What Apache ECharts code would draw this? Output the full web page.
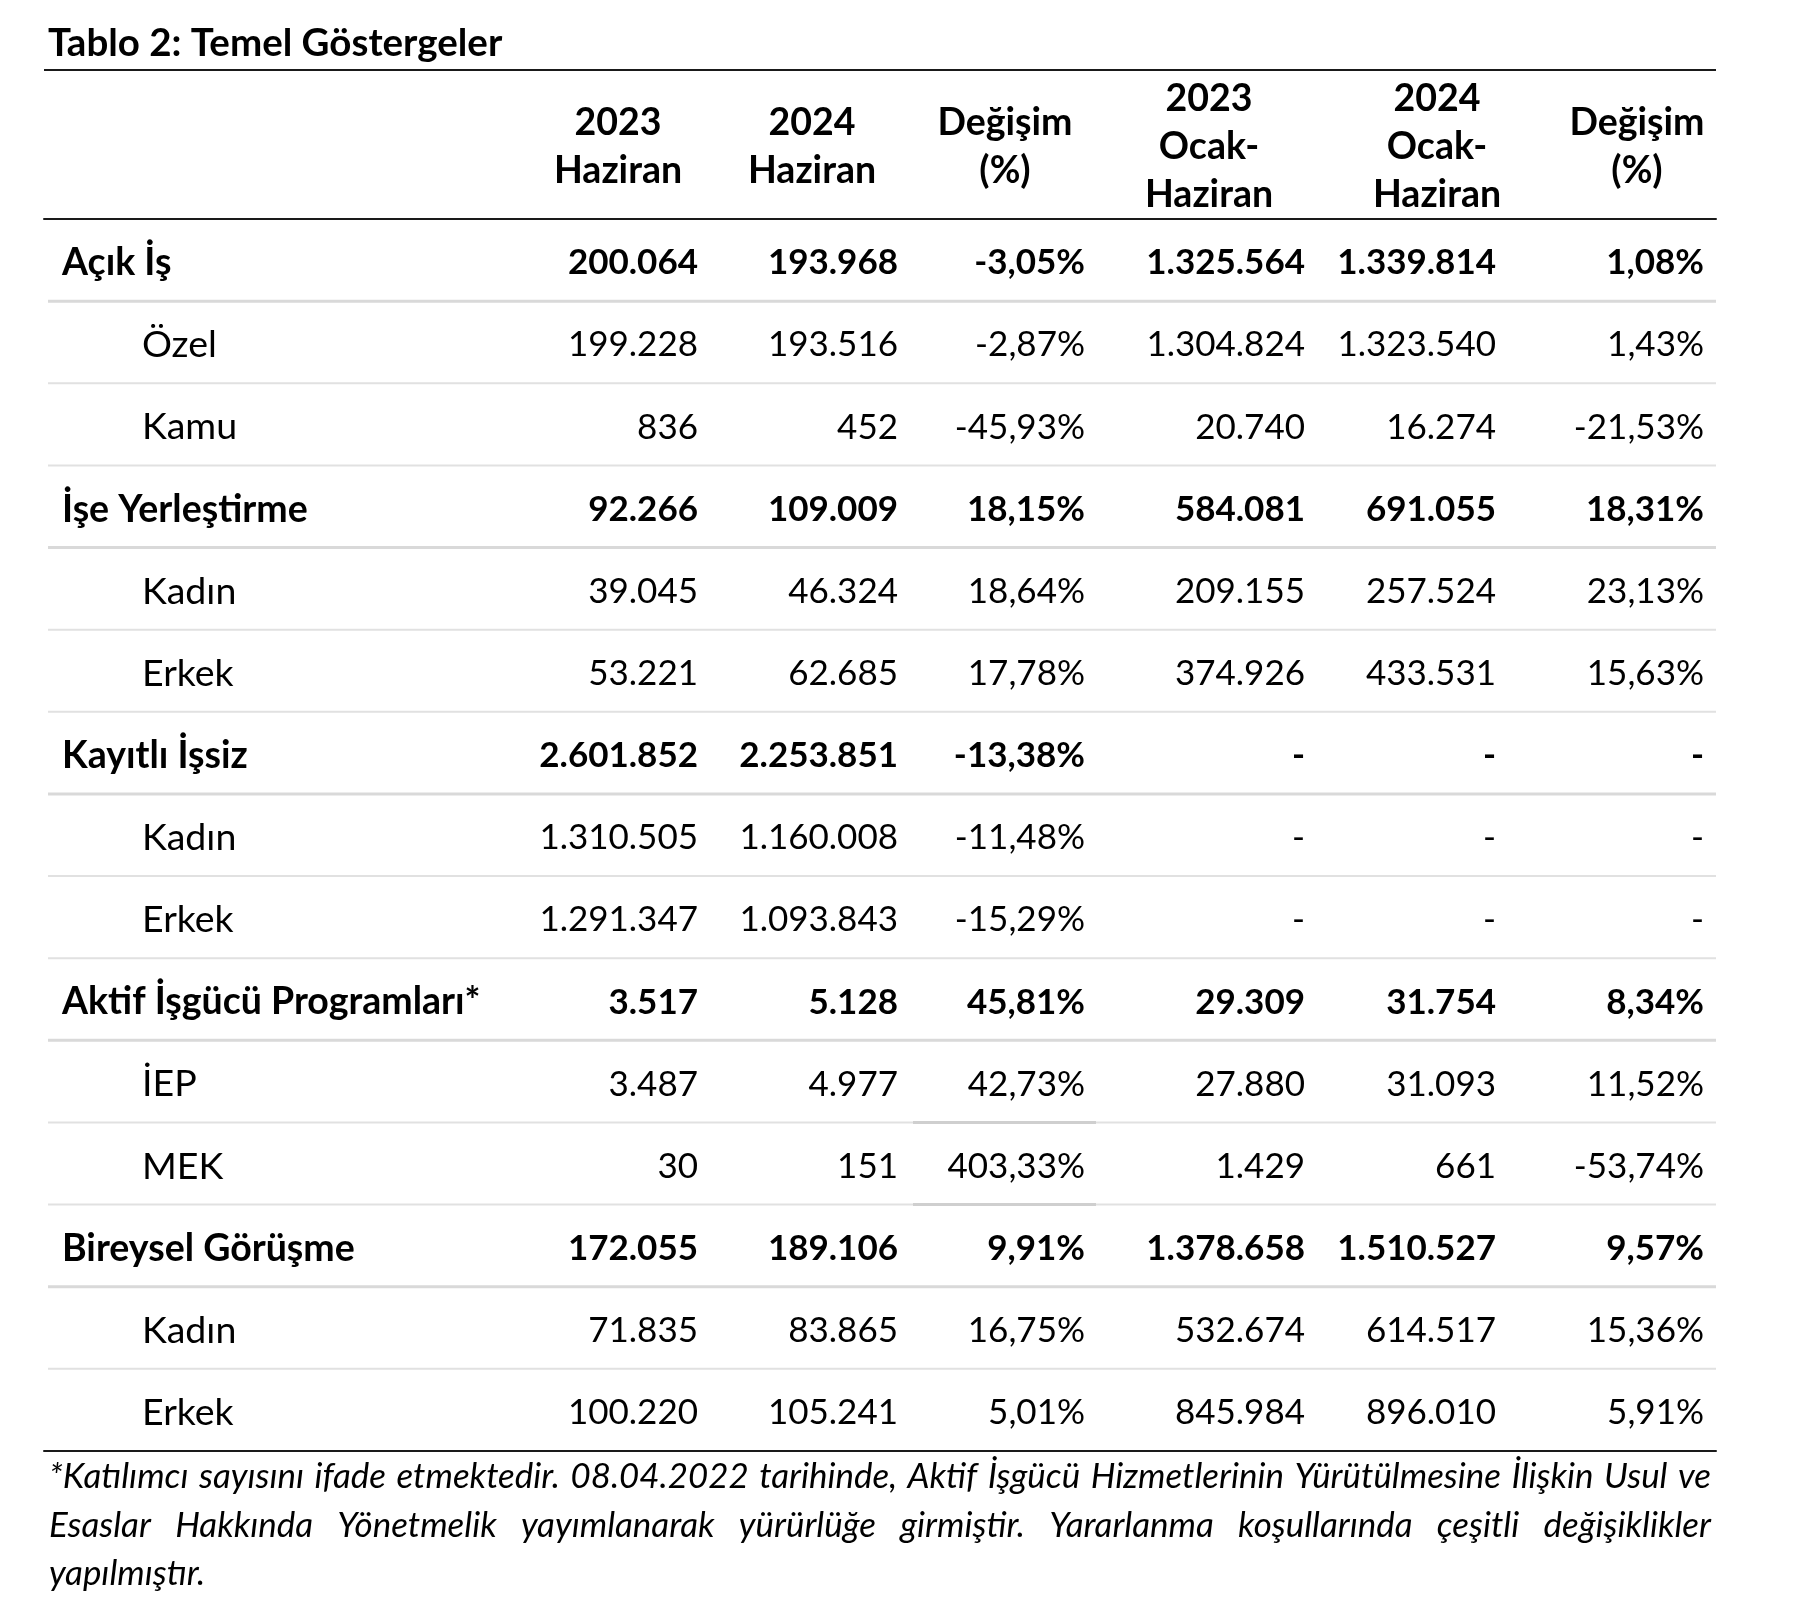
<!DOCTYPE html>
<html><head><meta charset="utf-8">
<script src="https://cdn.jsdelivr.net/npm/echarts@6/dist/echarts.min.js"></script>
<style>html,body{margin:0;padding:0;background:#fff}#c{width:1800px;height:1615px}</style>
</head><body><div id="c"></div>
<script>
// ---------- DATA ----------
const tableTitle = 'Tablo 2: Temel Göstergeler';
const columnHeaders = [
  ['2023', 'Haziran'],
  ['2024', 'Haziran'],
  ['Değişim', '(%)'],
  ['2023', 'Ocak-', 'Haziran'],
  ['2024', 'Ocak-', 'Haziran'],
  ['Değişim', '(%)']
];
const rowLabels = ['Açık İş', 'Özel', 'Kamu', 'İşe Yerleştirme', 'Kadın', 'Erkek', 'Kayıtlı İşsiz', 'Kadın', 'Erkek',
  'Aktif İşgücü Programları*', 'İEP', 'MEK', 'Bireysel Görüşme', 'Kadın', 'Erkek'];
const rowIsMain = [1, 0, 0, 1, 0, 0, 1, 0, 0, 1, 0, 0, 1, 0, 0];
const haziran2023 = [200064, 199228, 836, 92266, 39045, 53221, 2601852, 1310505, 1291347, 3517, 3487, 30, 172055, 71835, 100220];
const haziran2024 = [193968, 193516, 452, 109009, 46324, 62685, 2253851, 1160008, 1093843, 5128, 4977, 151, 189106, 83865, 105241];
const degisimHaziran = [-3.05, -2.87, -45.93, 18.15, 18.64, 17.78, -13.38, -11.48, -15.29, 45.81, 42.73, 403.33, 9.91, 16.75, 5.01];
const ocakHaziran2023 = [1325564, 1304824, 20740, 584081, 209155, 374926, null, null, null, 29309, 27880, 1429, 1378658, 532674, 845984];
const ocakHaziran2024 = [1339814, 1323540, 16274, 691055, 257524, 433531, null, null, null, 31754, 31093, 661, 1510527, 614517, 896010];
const degisimOcakHaziran = [1.08, 1.43, -21.53, 18.31, 23.13, 15.63, null, null, null, 8.34, 11.52, -53.74, 9.57, 15.36, 5.91];
const footnoteLines = [
  '*Katılımcı sayısını ifade etmektedir. 08.04.2022 tarihinde, Aktif İşgücü Hizmetlerinin Yürütülmesine İlişkin Usul ve',
  'Esaslar Hakkında Yönetmelik yayımlanarak yürürlüğe girmiştir. Yararlanma koşullarında çeşitli değişiklikler',
  'yapılmıştır.'
];

// ---------- LAYOUT / STYLE ----------
const FONT = 'Lato';
const FS_NUM = 35;     // numbers
const FS_TEXT = 37.5;  // row labels and headers
const FS_TITLE = 38.5;
const L = {
  gridLeft: 44, gridRight: 84, gridTop: 219, gridBottom: 164, xMax: 1672,
  colRight: [654, 854, 1041, 1261, 1452, 1660],
  colCenter: [574, 768, 961, 1165, 1393, 1593],
  mainLabelX: 18, subLabelX: 98, lineStart: 4, textDy: 3,
  headerCenterOffset: -72, headerLineGap: 48,
  specialCell: { row: 11, x1: 869, x2: 1052 },
  footLeft: 49, footRight: 1711, footY: [1477, 1526, 1574]
};

function fmtInt(n) {
  if (n == null) return '-';
  const s = String(Math.abs(n)).replace(/\B(?=(\d{3})+(?!\d))/g, '.');
  return (n < 0 ? '-' : '') + s;
}
function fmtPct(p) {
  if (p == null) return '-';
  const parts = Math.abs(p).toFixed(2).split('.');
  return (p < 0 ? '-' : '') + parts[0].replace(/\B(?=(\d{3})+(?!\d))/g, '.') + ',' + parts[1] + '%';
}
const columnsData = [haziran2023, haziran2024, degisimHaziran, ocakHaziran2023, ocakHaziran2024, degisimOcakHaziran];
const columnFmt = [fmtInt, fmtInt, fmtPct, fmtInt, fmtInt, fmtPct];

function txt(text, x, y, align, bold, size) {
  return {
    type: 'text',
    style: { text, x, y, align, verticalAlign: 'middle', fontFamily: FONT, fontSize: size,
      fontWeight: bold ? 'bold' : 'normal', fill: '#000' }
  };
}

// ---------- FOOTNOTE (justified) ----------
const cv = document.createElement('canvas').getContext('2d');
function measure(t, size) { cv.font = 'italic ' + size + 'px ' + FONT; return cv.measureText(t).width; }
const footFS = Math.round(1635 / measure(footnoteLines[0], 100) * 100 * 10) / 10;
const footGraphics = [];
footnoteLines.forEach((line, li) => {
  const y = L.footY[li];
  const justify = li < footnoteLines.length - 1;
  const mk = (t, x) => ({ type: 'text', x, y,
    style: { text: t, font: 'italic ' + footFS + 'px ' + FONT, fill: '#000', align: 'left', verticalAlign: 'middle', textAlign: 'left', textVerticalAlign: 'middle' } });
  if (!justify) { footGraphics.push(mk(line, L.footLeft)); return; }
  const words = line.split(' ');
  const ws = words.map(w => measure(w, footFS));
  const total = ws.reduce((a, b) => a + b, 0);
  const gap = (L.footRight - L.footLeft - total) / (words.length - 1);
  let x = L.footLeft;
  words.forEach((w, k) => { footGraphics.push(mk(w, x)); x += ws[k] + gap; });
});

const chart = echarts.init(document.getElementById('c'), null, { renderer: 'canvas' });
const hiddenX = (pos) => ({
  type: 'value', min: 0, max: L.xMax, position: pos,
  axisLine: { show: true, onZero: false, lineStyle: { color: '#1a1a1a', width: 2 } },
  axisTick: { show: false }, axisLabel: { show: false }, splitLine: { show: false }
});

chart.setOption({
  animation: false,
  backgroundColor: '#fff',
  title: {
    text: tableTitle, left: 48, top: 24, padding: 0,
    textStyle: { fontFamily: FONT, fontSize: FS_TITLE, fontWeight: 'bold', color: '#000' }
  },
  grid: { left: L.gridLeft, right: L.gridRight, top: L.gridTop, bottom: L.gridBottom, containLabel: false },
  xAxis: [hiddenX('bottom'), hiddenX('top')],
  yAxis: {
    type: 'category', inverse: true, data: rowLabels.map((_, i) => 'r' + i),
    axisLine: { show: false }, axisTick: { show: false }, axisLabel: { show: false }, splitLine: { show: false }
  },
  graphic: [
    { type: 'line', shape: { x1: 44, y1: 70, x2: 1716, y2: 70 }, style: { stroke: '#1a1a1a', lineWidth: 2 } }
  ].concat(footGraphics),
  series: [
    {
      type: 'custom', name: 'rows', clip: false,
      data: rowLabels.map((_, i) => [0, i]),
      renderItem(params, api) {
        const i = params.dataIndex;
        const r = api.value(1);
        const c = api.coord([0, r]);
        const y = c[1];
        const ty = y + L.textDy;
        const bandH = api.size([0, 1])[1];
        const X = v => api.coord([v, r])[0];
        const main = !!rowIsMain[i];
        const children = [];
        children.push(txt(rowLabels[i], X(main ? L.mainLabelX : L.subLabelX), ty, 'left', main, FS_TEXT));
        columnsData.forEach((arr, j) => {
          children.push(txt(columnFmt[j](arr[i]), X(L.colRight[j]), ty, 'right', main, FS_NUM));
        });
        if (i < rowLabels.length - 1) {
          const ly = y + bandH / 2;
          children.push({ type: 'line', shape: { x1: X(L.lineStart), y1: ly, x2: X(L.xMax), y2: ly },
            style: { stroke: main ? '#d9d9d9' : '#e1e1e1', lineWidth: main ? 3 : 2 } });
        }
        if (i === L.specialCell.row) {
          [y - bandH / 2, y + bandH / 2].forEach(ly => children.push({ type: 'line',
            shape: { x1: X(L.specialCell.x1), y1: ly, x2: X(L.specialCell.x2), y2: ly },
            style: { stroke: '#cfcfcf', lineWidth: 3 } }));
        }
        return { type: 'group', children };
      }
    },
    {
      type: 'custom', name: 'header', clip: false,
      data: columnHeaders.map(() => [0, 0]),
      renderItem(params, api) {
        const j = params.dataIndex;
        const bandH = api.size([0, 1])[1];
        const top = api.coord([0, 0])[1] - bandH / 2;
        const cx = api.coord([L.colCenter[j], 0])[0];
        const lines = columnHeaders[j];
        const cy = top + L.headerCenterOffset;
        const children = lines.map((t, k) =>
          txt(t, cx, cy + (k - (lines.length - 1) / 2) * L.headerLineGap, 'center', true, FS_TEXT));
        return { type: 'group', children };
      }
    }
  ]
});
</script>
</body></html>
